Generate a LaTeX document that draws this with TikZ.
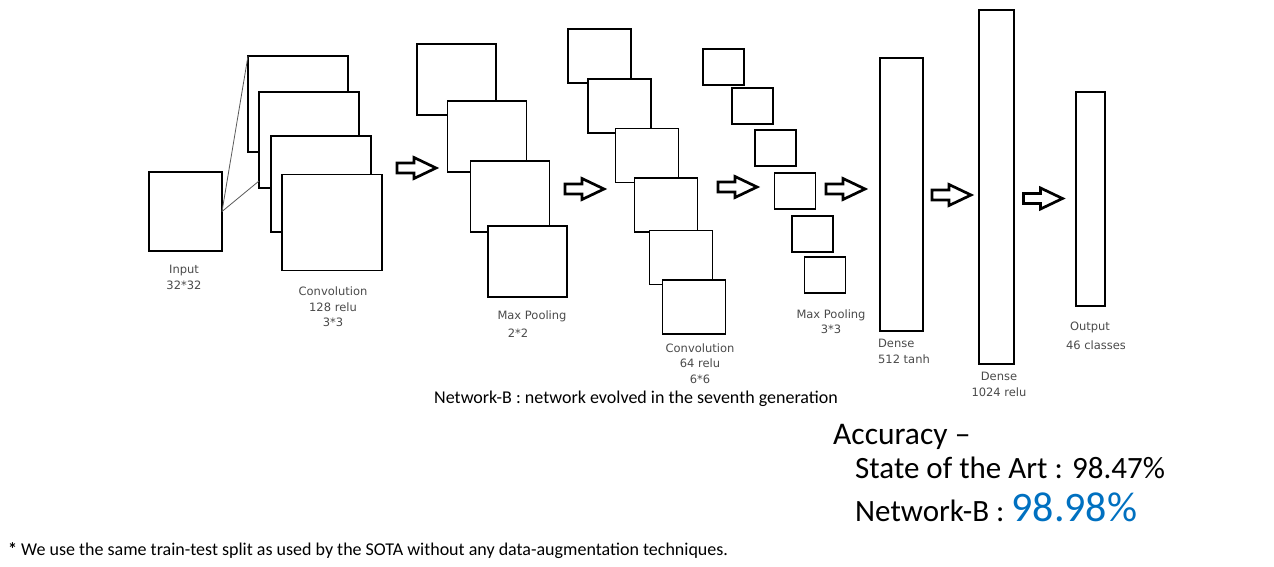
\documentclass[tikz,border=0pt]{standalone}
\usepackage{fontspec}
\setmainfont{Carlito}
\newfontfamily\plotfont{DejaVu Sans}
\usepackage{tikz}
\usetikzlibrary{calc}

\definecolor{accblue}{HTML}{0070C0}
\definecolor{labelgray}{HTML}{4A4A4A}

\tikzset{
    fmap/.style={draw, fill=white, line width=1.7pt, inner sep=0pt, outer sep=0pt},
    conva/.style={fmap, minimum width=100pt, minimum height=96pt},
    poola/.style={fmap, minimum width=79pt, minimum height=71pt},
    convb/.style={fmap, minimum width=63pt, minimum height=54pt},
    poolb/.style={fmap, minimum width=41pt, minimum height=36pt},
    flow/.style={draw, fill=white, line width=2.7pt, line join=miter},
    layerlabel/.style={font=\plotfont\fontsize{11.5}{15.5}\selectfont, text=labelgray, align=center, inner sep=0pt},
}

\begin{document}
\begin{tikzpicture}[x=1pt, y=-1pt]
    \useasboundingbox (0,0) rectangle (1274,567);

    \coordinate (A1) at (397,168);
    \coordinate (A2) at (565,189);
    \coordinate (A3) at (718,187);
    \coordinate (A4) at (826,189);
    \coordinate (A5) at (932,195);
    \coordinate (A6) at (1023.5,198.5);

    % Input
    \node[fmap, minimum width=73pt, minimum height=79pt] (in) at (185.5,211.5) {};

    % Convolution #1
    \node[conva] (c1a) at (298,104) {};
    \node[conva] (c1b) at (309,140) {};
    \node[conva] (c1c) at (321,184) {};
    \node[conva] (c1d) at (332,222.5) {};
    \draw[gray!70!black, line width=0.8pt] (in.east) -- (c1a.north west);
    \draw[gray!70!black, line width=0.8pt] (in.east) -- ([yshift=7pt]c1b.south west);

    % Max Pooling #1
    \node[poola] (p1a) at (456.5,79.5) {};
    \node[poola] (p1b) at (487,136.5) {};
    \node[poola] (p1c) at (510,196.5) {};
    \node[poola] (p1d) at (527.5,261.5) {};

    % Convolution #2
    \node[convb] (c2a) at (599.5,56) {};
    \node[convb] (c2b) at (619.5,106) {};
    \node[convb] (c2c) at (647,155.5) {};
    \node[convb] (c2d) at (666,205) {};
    \node[convb] (c2e) at (681,257.5) {};
    \node[convb] (c2f) at (694,307) {};

    % Max Pooling #2
    \node[poolb] (p2a) at (723.5,67) {};
    \node[poolb] (p2b) at (752.5,106) {};
    \node[poolb] (p2c) at (775.5,148) {};
    \node[poolb] (p2d) at (795,191) {};
    \node[poolb] (p2e) at (812.5,234) {};
    \node[poolb] (p2f) at (825,275) {};

    % Dense + Output
    \node[fmap, minimum width=43pt, minimum height=273pt] (d1) at (901.5,194.5) {};
    \node[fmap, minimum width=35pt, minimum height=354pt] (d2) at (996.5,187) {};
    \node[fmap, minimum width=29pt, minimum height=214pt] (out) at (1090.5,199) {};

    % Block arrows
    \foreach \a in {A1,A2,A3,A4,A5,A6}
        \draw[flow, shift={(\a)}] (0,-5) -- (17,-5) -- (17,-10.5) -- (39,0) -- (17,10.5) -- (17,5) -- (0,5) -- cycle;

    % Labels
    \node[layerlabel] (lin) at (184,277.5) {Input\\32*32};
    \node[layerlabel] (lc1) at (333,307) {Convolution\\128 relu\\3*3};
    \node[layerlabel] (lp1) at (532,316) {Max Pooling};
    \node[layerlabel] (lp1k) at (518,333) {2*2};
    \node[layerlabel] (lc2) at (700,363.5) {Convolution\\64 relu\\6*6};
    \node[layerlabel] (lp2) at (831,321.5) {Max Pooling\\3*3};
    \node[layerlabel, align=left] (ld1) at (904,351.5) {Dense\\512 tanh};
    \node[layerlabel] (ld2) at (999,384.5) {Dense\\1024 relu};
    \node[layerlabel] (lout) at (1090,327) {Output};
    \begin{scope}
        \clip (1050,335) rectangle (1124,356);
        \node[layerlabel] (loutk) at (1096,345) {46 classes};
    \end{scope}

    \node[anchor=base, font=\fontsize{18}{20}\selectfont, inner sep=0pt] (cap) at (636,403)
        {Network-B : network evolved in the seventh generation};

    % Accuracy
    \node[anchor=base west, font=\fontsize{31.5}{34}\selectfont, inner sep=0pt] (acc) at (833,444) {Accuracy --};
    \node[anchor=base west, font=\fontsize{31}{34}\selectfont, inner sep=0pt] (sota) at (855,478) {State of the Art : 98.47\%};
    \node[anchor=base west, font=\fontsize{31}{34}\selectfont, inner sep=0pt] (netb) at (855,521)
        {Network-B : {\color{accblue}\fontsize{42}{44}\selectfont 98.98\%}};

    \node[anchor=base west, font=\fontsize{18}{20}\selectfont, inner sep=0pt] (note) at (8,555)
        {\textbf{*} We use the same train-test split as used by the SOTA without any data-augmentation techniques.};
\end{tikzpicture}
\end{document}
